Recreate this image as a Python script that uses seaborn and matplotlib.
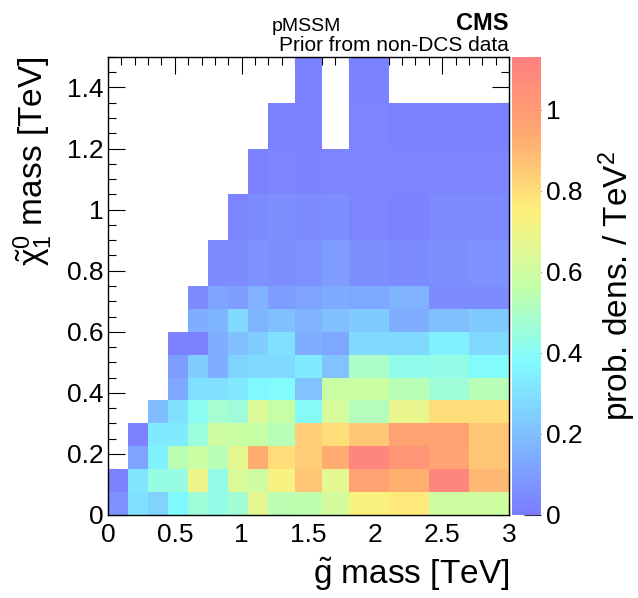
import numpy as np
import matplotlib
matplotlib.use("Agg")
import matplotlib.pyplot as plt
import seaborn as sns
from matplotlib.colors import LinearSegmentedColormap
from matplotlib.ticker import MultipleLocator, FuncFormatter

# Bin edges in TeV (variable binning)
gluino_edges = [0, 0.15, 0.3, 0.45, 0.6, 0.75, 0.9, 1.05, 1.2, 1.4, 1.6, 1.8, 2.1, 2.4, 2.7, 3.0]
neutralino_edges = [0, 0.075, 0.15, 0.225, 0.3, 0.375, 0.45, 0.525, 0.6, 0.675, 0.75,
                    0.9, 1.05, 1.2, 1.35, 1.5]

nan = np.nan
# prob. density per bin, one list per neutralino-mass row (bottom row first)
row_00 = [0.07, 0.30, 0.26, 0.37, 0.46, 0.43, 0.47, 0.67, 0.54, 0.55, 0.61, 0.74, 0.77, 0.60, 0.60]
row_01 = [0.02, 0.31, 0.44, 0.44, 0.70, 0.43, 0.63, 0.60, 0.73, 0.86, 0.67, 0.97, 0.92, 1.10, 0.90]
row_02 = [nan, 0.12, 0.35, 0.54, 0.58, 0.53, 0.67, 0.93, 0.80, 0.84, 0.93, 1.10, 1.02, 0.96, 0.86]
row_03 = [nan, 0.02, 0.33, 0.33, 0.45, 0.60, 0.58, 0.57, 0.53, 0.84, 0.80, 0.86, 0.97, 0.97, 0.86]
row_04 = [nan, nan, 0.19, 0.30, 0.41, 0.48, 0.46, 0.64, 0.57, 0.39, 0.62, 0.52, 0.68, 0.80, 0.80]
row_05 = [nan, nan, nan, 0.13, 0.30, 0.30, 0.32, 0.37, 0.38, 0.21, 0.58, 0.58, 0.53, 0.46, 0.53]
row_06 = [nan, nan, nan, 0.10, 0.24, 0.15, 0.26, 0.28, 0.28, 0.33, 0.21, 0.50, 0.42, 0.43, 0.38]
row_07 = [nan, nan, nan, 0.02, 0.02, 0.15, 0.20, 0.24, 0.30, 0.15, 0.13, 0.28, 0.28, 0.35, 0.28]
row_08 = [nan, nan, nan, nan, 0.15, 0.17, 0.28, 0.17, 0.20, 0.16, 0.20, 0.23, 0.15, 0.20, 0.23]
row_09 = [nan, nan, nan, nan, 0.05, 0.12, 0.10, 0.16, 0.10, 0.12, 0.14, 0.13, 0.16, 0.05, 0.05]
row_10 = [nan, nan, nan, nan, nan, 0.04, 0.05, 0.07, 0.06, 0.07, 0.10, 0.06, 0.05, 0.06, 0.07]
row_11 = [nan, nan, nan, nan, nan, nan, 0.03, 0.05, 0.06, 0.05, 0.06, 0.03, 0.02, 0.04, 0.04]
row_12 = [nan, nan, nan, nan, nan, nan, nan, 0.02, 0.03, 0.02, 0.03, 0.03, 0.03, 0.03, 0.03]
row_13 = [nan, nan, nan, nan, nan, nan, nan, nan, 0.02, 0.02, nan, 0.03, 0.02, 0.02, 0.02]
row_14 = [nan, nan, nan, nan, nan, nan, nan, nan, nan, 0.02, nan, 0.02, nan, nan, nan]

density = np.ma.masked_invalid(np.array([row_00, row_01, row_02, row_03, row_04, row_05, row_06,
                                         row_07, row_08, row_09, row_10, row_11, row_12, row_13,
                                         row_14]))

x_ticks = [0, 0.5, 1, 1.5, 2, 2.5, 3]
y_ticks = [0, 0.2, 0.4, 0.6, 0.8, 1, 1.2, 1.4]
z_ticks = [0, 0.2, 0.4, 0.6, 0.8, 1]
z_max = 1.13

sns.set_style("white")
plt.rcParams["font.family"] = ["Liberation Sans", "DejaVu Sans"]
plt.rcParams["mathtext.fontset"] = "custom"
plt.rcParams["mathtext.rm"] = "Liberation Sans"
plt.rcParams["mathtext.it"] = "Liberation Sans"
plt.rcParams["mathtext.bf"] = "Liberation Sans:bold"
plt.rcParams["text.color"] = "black"
plt.rcParams["axes.labelcolor"] = "black"
plt.rcParams["xtick.color"] = "black"
plt.rcParams["ytick.color"] = "black"

# pastel rainbow palette
cmap = LinearSegmentedColormap.from_list(
    "pastel_rainbow",
    ["#7b7bff", "#80bcff", "#80fbff", "#c4ffa8", "#fff07c", "#ffa870", "#ff8080"])

fig = plt.figure(figsize=(6.38, 5.98), dpi=100)
ax = fig.add_axes([0.1693, 0.1388, 0.6285, 0.766])
cax = fig.add_axes([0.8025, 0.1388, 0.0455, 0.766])

mesh = ax.pcolormesh(gluino_edges, neutralino_edges, density, cmap=cmap,
                     vmin=0, vmax=z_max, edgecolors="face", linewidth=0)

fmt = FuncFormatter(lambda v, p: "%g" % round(v, 3))
ax.set_xlim(0, 3)
ax.set_ylim(0, 1.5)
ax.set_xticks(x_ticks)
ax.set_yticks(y_ticks)
ax.xaxis.set_major_formatter(fmt)
ax.yaxis.set_major_formatter(fmt)
ax.xaxis.set_minor_locator(MultipleLocator(0.1))
ax.yaxis.set_minor_locator(MultipleLocator(0.05))
ax.tick_params(which="both", direction="in", bottom=True, left=True, top=True, right=True,
               labelsize=19, width=0.8, color="black")
ax.tick_params(which="major", length=12)
ax.tick_params(which="minor", length=6)
ax.tick_params(axis="x", pad=6)
for sp in ax.spines.values():
    sp.set_linewidth(1.0)
    sp.set_color("black")

ax.set_xlabel(r"$\tilde{g}$ mass [TeV]", fontsize=24, loc="right", labelpad=6)
ax.set_ylabel(r"$\tilde{\chi}_1^0$ mass [TeV]", fontsize=24, loc="top", labelpad=8)

cb = fig.colorbar(mesh, cax=cax)
cb.set_ticks(z_ticks)
cb.ax.yaxis.set_major_formatter(fmt)
cb.ax.tick_params(direction="in", right=True, length=12, labelsize=19, width=0.8, color="#333333")
cb.ax.minorticks_off()
cb.outline.set_linewidth(0)
cb.set_label(r"prob. dens. / TeV$^2$", fontsize=24, labelpad=10)

fig.text(0.797, 0.950, "CMS", ha="right", va="baseline", fontsize=17, fontweight="bold")
fig.text(0.480, 0.948, "pMSSM", ha="center", va="baseline", fontsize=14)
fig.text(0.797, 0.914, "Prior from non-DCS data", ha="right", va="baseline", fontsize=15)

fig.savefig("out.png", dpi=100)
